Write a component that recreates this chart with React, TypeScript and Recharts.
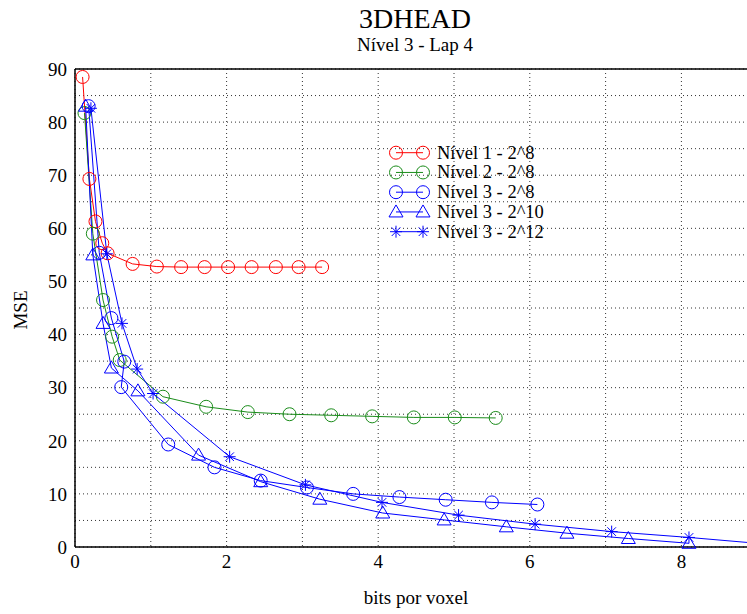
import { LineChart, Line, XAxis, YAxis, CartesianGrid, ReferenceLine } from "recharts"

// Eixos
const X_TICKS = [0, 1, 2, 3, 4, 5, 6, 7, 8]
const Y_TICKS = [0, 5, 10, 15, 20, 25, 30, 35, 40, 45, 50, 55, 60, 65, 70, 75, 80, 85, 90]

// Nível 1 - 2^8
const nivel1_8 = [
  { x: 0.1, y: 88.5 }, { x: 0.19, y: 69.3 }, { x: 0.27, y: 61.3 }, { x: 0.36, y: 57.2 },
  { x: 0.43, y: 55.3 }, { x: 0.76, y: 53.3 }, { x: 1.08, y: 52.8 }, { x: 1.4, y: 52.7 },
  { x: 1.71, y: 52.7 }, { x: 2.02, y: 52.7 }, { x: 2.33, y: 52.7 }, { x: 2.65, y: 52.7 },
  { x: 2.95, y: 52.7 }, { x: 3.26, y: 52.7 },
]

// Nível 2 - 2^8
const nivel2_8 = [
  { x: 0.125, y: 81.7 }, { x: 0.235, y: 59.0 }, { x: 0.37, y: 46.5 }, { x: 0.49, y: 39.6 },
  { x: 0.59, y: 35.2 }, { x: 1.16, y: 28.3 }, { x: 1.73, y: 26.4 }, { x: 2.28, y: 25.4 },
  { x: 2.83, y: 25.0 }, { x: 3.38, y: 24.8 }, { x: 3.92, y: 24.6 }, { x: 4.47, y: 24.4 },
  { x: 5.01, y: 24.4 }, { x: 5.55, y: 24.3 },
]

// Nível 3 - 2^8
const nivel3_8 = [
  { x: 0.18, y: 83.0 }, { x: 0.32, y: 55.4 }, { x: 0.48, y: 43.1 }, { x: 0.65, y: 34.9 },
  { x: 0.61, y: 30.1 }, { x: 1.23, y: 19.3 }, { x: 1.84, y: 15.0 }, { x: 2.45, y: 12.5 },
  { x: 3.06, y: 11.2 }, { x: 3.67, y: 10.0 }, { x: 4.28, y: 9.4 }, { x: 4.89, y: 8.9 },
  { x: 5.5, y: 8.4 }, { x: 6.1, y: 8.0 },
]

// Nível 3 - 2^10
const nivel3_10 = [
  { x: 0.14, y: 83.0 }, { x: 0.235, y: 55.0 }, { x: 0.37, y: 42.1 }, { x: 0.48, y: 33.7 },
  { x: 0.83, y: 29.4 }, { x: 1.63, y: 17.3 }, { x: 2.45, y: 12.3 }, { x: 3.23, y: 9.0 },
  { x: 4.06, y: 6.4 }, { x: 4.87, y: 5.1 }, { x: 5.69, y: 3.8 }, { x: 6.49, y: 2.6 },
  { x: 7.3, y: 1.6 }, { x: 8.1, y: 0.7 },
]

// Nível 3 - 2^12
const nivel3_12 = [
  { x: 0.21, y: 82.6 }, { x: 0.42, y: 55.2 }, { x: 0.62, y: 42.1 }, { x: 0.82, y: 33.5 },
  { x: 1.03, y: 28.9 }, { x: 2.04, y: 17.0 }, { x: 3.04, y: 11.7 }, { x: 4.05, y: 8.4 },
  { x: 5.06, y: 6.0 }, { x: 6.07, y: 4.3 }, { x: 7.08, y: 2.9 }, { x: 8.1, y: 1.8 },
  { x: 9.12, y: 0.55 },
]

type Kind = "circle" | "triangle" | "star"

const SERIES: { name: string; data: { x: number; y: number }[]; color: string; kind: Kind }[] = [
  { name: "Nível 1 - 2^8", data: nivel1_8, color: "#ff0000", kind: "circle" },
  { name: "Nível 2 - 2^8", data: nivel2_8, color: "#1a8c1a", kind: "circle" },
  { name: "Nível 3 - 2^8", data: nivel3_8, color: "#0000ff", kind: "circle" },
  { name: "Nível 3 - 2^10", data: nivel3_10, color: "#0000ff", kind: "triangle" },
  { name: "Nível 3 - 2^12", data: nivel3_12, color: "#0000ff", kind: "star" },
]

const FONT = "'Liberation Serif', 'Times New Roman', serif"

function Marker({ kind, cx, cy, color }: { kind: Kind; cx: number; cy: number; color: string }) {
  if (kind === "circle") {
    return <circle cx={cx} cy={cy} r={6.5} fill="none" stroke={color} strokeWidth={1} />
  }
  if (kind === "triangle") {
    return (
      <polygon
        points={`${cx},${cy - 7} ${cx - 7},${cy + 5} ${cx + 7},${cy + 5}`}
        fill="none"
        stroke={color}
        strokeWidth={1}
      />
    )
  }
  const d = 6
  const e = 4.3
  return (
    <g stroke={color} strokeWidth={1}>
      <line x1={cx - d} y1={cy} x2={cx + d} y2={cy} />
      <line x1={cx} y1={cy - d} x2={cx} y2={cy + d} />
      <line x1={cx - e} y1={cy - e} x2={cx + e} y2={cy + e} />
      <line x1={cx - e} y1={cy + e} x2={cx + e} y2={cy - e} />
    </g>
  )
}

function LegendBox() {
  return (
    <svg width={200} height={110} style={{ position: "absolute", left: 385, top: 142 }}>
      {SERIES.map((s, i) => {
        const y = 10.7 + i * 19.75
        return (
          <g key={s.name}>
            <line x1={11} y1={y} x2={38} y2={y} stroke={s.color} strokeWidth={1} />
            <Marker kind={s.kind} cx={11} cy={y} color={s.color} />
            <Marker kind={s.kind} cx={38} cy={y} color={s.color} />
            <text x={52} y={y} dominantBaseline="central" fontSize={18.5} fontFamily={FONT} fill="#000">
              {s.name}
            </text>
          </g>
        )
      })}
    </svg>
  )
}

export default function App() {
  return (
    <div
      style={{
        position: "absolute",
        left: 0,
        top: 0,
        width: 747,
        height: 614,
        overflow: "hidden",
        background: "#fff",
      }}
    >
      <LineChart
        width={850}
        height={614}
        margin={{ top: 69, right: 17, bottom: 37, left: 15 }}
      >
        <CartesianGrid stroke="#333" strokeDasharray="1 3" />
        <XAxis
          type="number"
          dataKey="x"
          domain={[0, 10]}
          ticks={X_TICKS}
          allowDataOverflow
          tickLine={false}
          axisLine={{ stroke: "#000", strokeWidth: 1.5 }}
          height={30}
          tickFormatter={(v: number) => (v % 2 === 0 ? String(v) : "")}
          tick={{ fontSize: 19, fontFamily: FONT, fill: "#000" }}
        />
        <YAxis
          type="number"
          domain={[0, 90]}
          ticks={Y_TICKS}
          width={60}
          tickLine={false}
          axisLine={{ stroke: "#000", strokeWidth: 1.5 }}
          tickFormatter={(v: number) => (v % 10 === 0 ? String(v) : "")}
          tick={{ fontSize: 19, fontFamily: FONT, fill: "#000" }}
        />
        <ReferenceLine y={90} stroke="#000" strokeWidth={1.5} />
        {SERIES.map(s => (
          <Line
            key={s.name}
            data={s.data}
            dataKey="y"
            name={s.name}
            type="linear"
            stroke={s.color}
            strokeWidth={1}
            isAnimationActive={false}
            dot={(p: any) => (
              <Marker key={`${s.name}-${p.index}`} kind={s.kind} cx={p.cx} cy={p.cy} color={s.color} />
            )}
            activeDot={false}
          />
        ))}
      </LineChart>

      <svg width={747} height={614} style={{ position: "absolute", left: 0, top: 0, pointerEvents: "none" }}>
        <text x={415} y={28} textAnchor="middle" fontSize={28} fontFamily={FONT} fill="#000">
          3DHEAD
        </text>
        <text x={415} y={51} textAnchor="middle" fontSize={19} fontFamily={FONT} fill="#000">
          Nível 3 - Lap 4
        </text>
        <text x={416} y={604} textAnchor="middle" fontSize={19} fontFamily={FONT} fill="#000">
          bits por voxel
        </text>
        <text
          x={27}
          y={310}
          textAnchor="middle"
          fontSize={19}
          fontFamily={FONT}
          fill="#000"
          transform="rotate(-90 27 310)"
        >
          MSE
        </text>
      </svg>
      <LegendBox />
    </div>
  )
}
